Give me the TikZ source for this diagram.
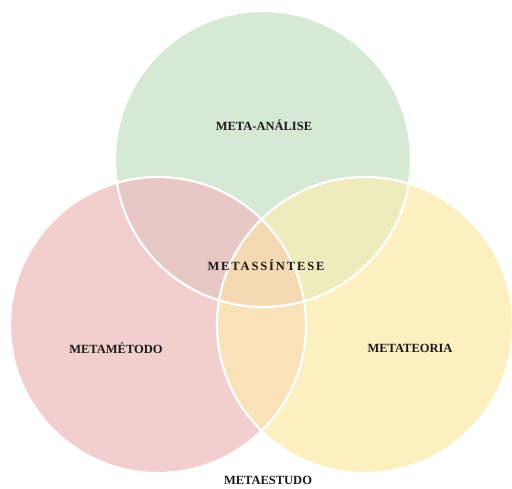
\documentclass[tikz,border=0pt]{standalone}
\usepackage{fontspec}
\setmainfont{Liberation Serif}
\definecolor{cg}{HTML}{D5E9D4}
\definecolor{cr}{HTML}{F2CECE}
\definecolor{cy}{HTML}{FCEFC0}
\definecolor{crg}{HTML}{E8C8C4}
\definecolor{cgy}{HTML}{EEEBBC}
\definecolor{cry}{HTML}{F9E2B8}
\definecolor{crgy}{HTML}{F5D9B3}
\definecolor{ink}{HTML}{1A1A1A}
\begin{document}
\begin{tikzpicture}[x=1pt,y=-1pt,
  lbl/.style={font=\fontsize{12.5}{14}\selectfont\bfseries, text=ink, inner sep=0pt},
  rim/.style={draw=white, line width=2.2pt}]
\useasboundingbox (0,0) rectangle (512,488);
\coordinate (G) at (263,159);
\coordinate (R) at (158,325);
\coordinate (Y) at (365,325);
\def\rr{148}
\fill[cg] (G) circle (\rr);
\fill[cr] (R) circle (\rr);
\fill[cy] (Y) circle (\rr);
\begin{scope}
  \clip (G) circle (\rr);
  \fill[crg] (R) circle (\rr);
  \fill[cgy] (Y) circle (\rr);
\end{scope}
\begin{scope}
  \clip (R) circle (\rr);
  \fill[cry] (Y) circle (\rr);
  \clip (Y) circle (\rr);
  \fill[crgy] (G) circle (\rr);
\end{scope}
\draw[rim] (G) circle (\rr);
\draw[rim] (R) circle (\rr);
\draw[rim] (Y) circle (\rr);
\node[lbl] (ma) at (264,125) {META-ANÁLISE};
\node[lbl, font=\fontsize{12.5}{14}\selectfont\bfseries\addfontfeature{LetterSpace=15}] (ms) at (266,265) {METASSÍNTESE};
\node[lbl] (mm) at (116,348) {METAMÉTODO};
\node[lbl] (mt) at (410,348) {METATEORIA};
\node[lbl] (me) at (268,480) {METAESTUDO};
\end{tikzpicture}
\end{document}
